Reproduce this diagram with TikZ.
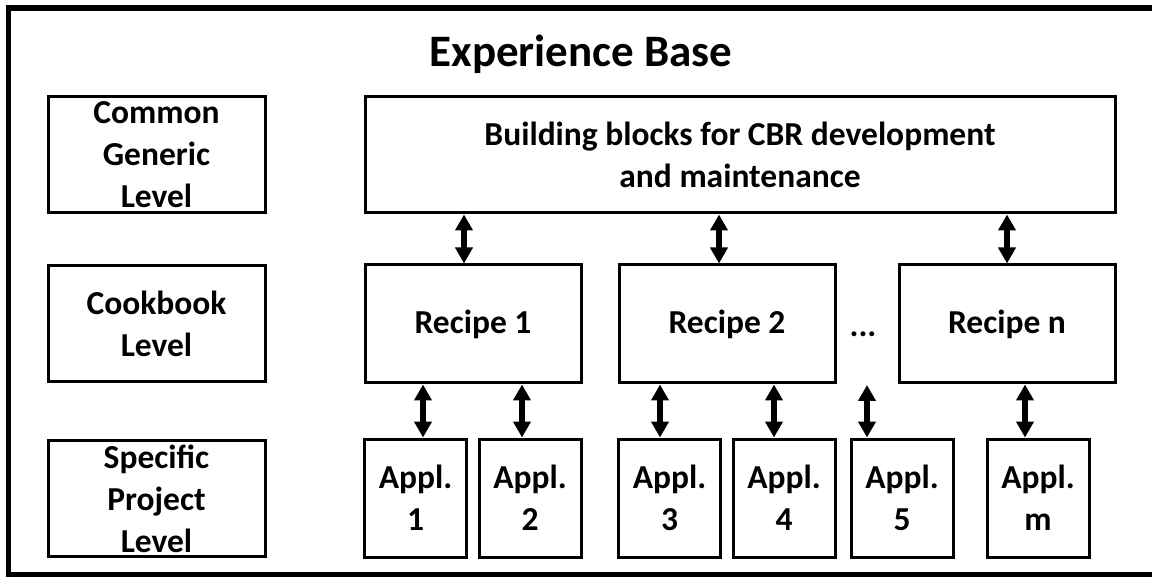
\documentclass[tikz,border=0pt]{standalone}
\usepackage{fontspec}
\setmainfont{Carlito}
\usetikzlibrary{arrows.meta,calc}
\begin{document}
\begin{tikzpicture}[x=1pt,y=-1pt,
  box/.style={draw,line width=3pt,inner sep=0pt,align=center,font=\fontsize{33.5}{42}\selectfont\bfseries},
  lvl/.style={box,minimum width=217pt,minimum height=116pt},
  rcp/.style={box,minimum width=216pt,minimum height=118pt},
  app/.style={box,minimum width=102pt,minimum height=118pt},
  dbl/.style={line width=6pt,{Triangle[width=17pt,length=16pt]}-{Triangle[width=17pt,length=16pt]}}]
\useasboundingbox (0,0) rectangle (1152,577);
\fill[white] (0,0) rectangle (1152,577);
\draw[line width=5.5pt] (1170,8) -- (8.5,8) -- (8.5,575) -- (1170,575);
\node[font=\fontsize{45}{50}\selectfont\bfseries,anchor=base] (title) at (581,67) {Experience Base};
\node[lvl] (cg) at (156.5,155) {Common\\Generic\\Level};
\node[lvl] (ck) at (156.5,323.5) {Cookbook\\Level};
\node[lvl] (sp) at (156.5,498.5) {Specific\\Project\\Level};
\node[box,minimum width=750pt,minimum height=116pt] (bb) at (740,155) {Building blocks for CBR development\\and maintenance};
\node[rcp] (r1) at (473,324) {Recipe 1};
\node[rcp] (r2) at (727,324) {Recipe 2};
\node[rcp] (rn) at (1007,324) {Recipe n};
\node[font=\fontsize{33.5}{42}\selectfont\bfseries,anchor=base] (dots) at (863,337) {...};
\node[app] (a1) at (415.5,498) {Appl.\\1};
\node[app] (a2) at (530,498) {Appl.\\2};
\node[app] (a3) at (669.5,498) {Appl.\\3};
\node[app] (a4) at (784,498) {Appl.\\4};
\node[app] (a5) at (902,498) {Appl.\\5};
\node[app] (am) at (1038,498) {Appl.\\m};
\coordinate (c5) at (867,385);
\draw[dbl] (464,0 |- bb.south) -- (464,0 |- r1.north);
\draw[dbl] (719,0 |- bb.south) -- (719,0 |- r2.north);
\draw[dbl] (1007,0 |- bb.south) -- (1007,0 |- rn.north);
\draw[dbl] (423,0 |- r1.south) -- (423,0 |- a1.north);
\draw[dbl] (522,0 |- r1.south) -- (522,0 |- a2.north);
\draw[dbl] (660,0 |- r2.south) -- (660,0 |- a3.north);
\draw[dbl] (774,0 |- r2.south) -- (774,0 |- a4.north);
\draw[dbl] (c5) -- (c5 |- a5.north);
\draw[dbl] (1025,0 |- rn.south) -- (1025,0 |- am.north);
\end{tikzpicture}
\end{document}
